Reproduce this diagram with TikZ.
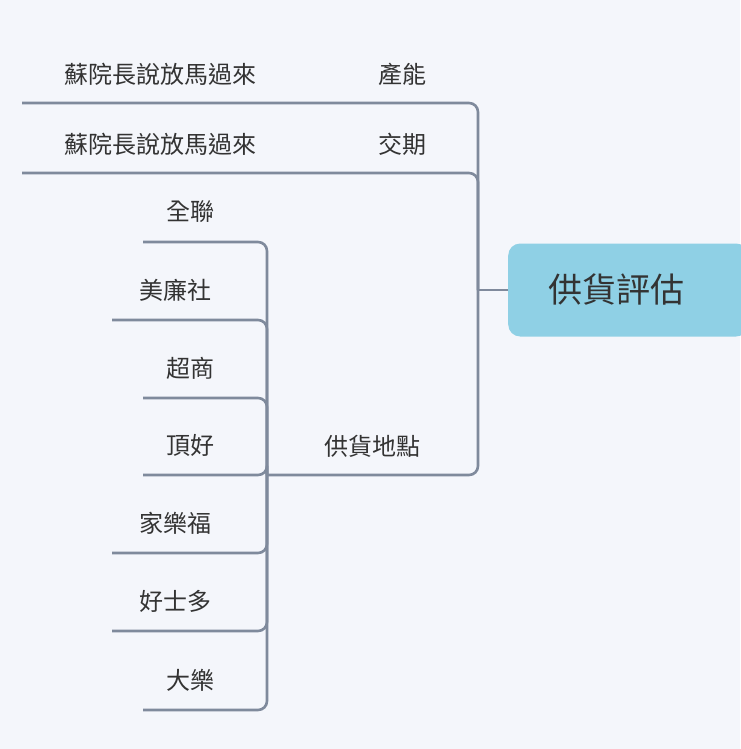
\documentclass[tikz,border=0pt]{standalone}
\usepackage{fontspec}
\newfontfamily\cjk{Noto Sans CJK TC}
\definecolor{bg}{HTML}{F4F6FB}
\definecolor{ln}{HTML}{7F8A9C}
\definecolor{rootc}{HTML}{8FD0E5}
\definecolor{tx}{HTML}{333333}
\begin{document}
\begin{tikzpicture}[x=1pt,y=-1pt,
  lbl/.style={font=\cjk\fontsize{24}{28}\selectfont,text=tx,inner sep=0pt},
  conn/.style={draw=ln,line width=2.6pt,rounded corners=9pt}]
\fill[bg] (0,0) rectangle (740,749);
\useasboundingbox (0,0) rectangle (740,749);
\node[fill=rootc,rounded corners=12pt,minimum width=240pt,minimum height=93pt,anchor=west,
  font=\cjk\fontsize{34}{40}\selectfont,text=tx,text width=220pt,align=left] (root) at (508,290) {\hspace{30pt}供貨評估};
\coordinate (hub) at (478,290);
\draw[conn] (root.west) -- (hub);
% level 1
\node[lbl] (cn) at (402,74) {產能};
\node[lbl] (cn1) at (160,74) {蘇院長說放馬過來};
\node[lbl] (jq) at (402,144) {交期};
\node[lbl] (jq1) at (160,144) {蘇院長說放馬過來};
\node[lbl] (gd) at (372,446) {供貨地點};
\coordinate (e1) at (22,103);
\coordinate (e2) at (22,173);
\coordinate (gdl) at (267,475);
\draw[conn] (hub) |- (e1);
\draw[conn] (hub) |- (e2);
\draw[conn] (hub) |- (gdl);
% children
\foreach \n/\t/\x/\y/\l in {a/全聯/190/212/143, b/美廉社/175/290/112, c/超商/190/368/143, d/頂好/190/445/143, e/家樂福/175/523/112, f/好士多/175/601/112, g/大樂/190/680/143}{
  \node[lbl] (\n) at (\x,\y) {\t};
  \coordinate (\n e) at (\l,\y+30);
  \draw[conn] (gdl) |- (\n e);
}
\end{tikzpicture}
\end{document}
